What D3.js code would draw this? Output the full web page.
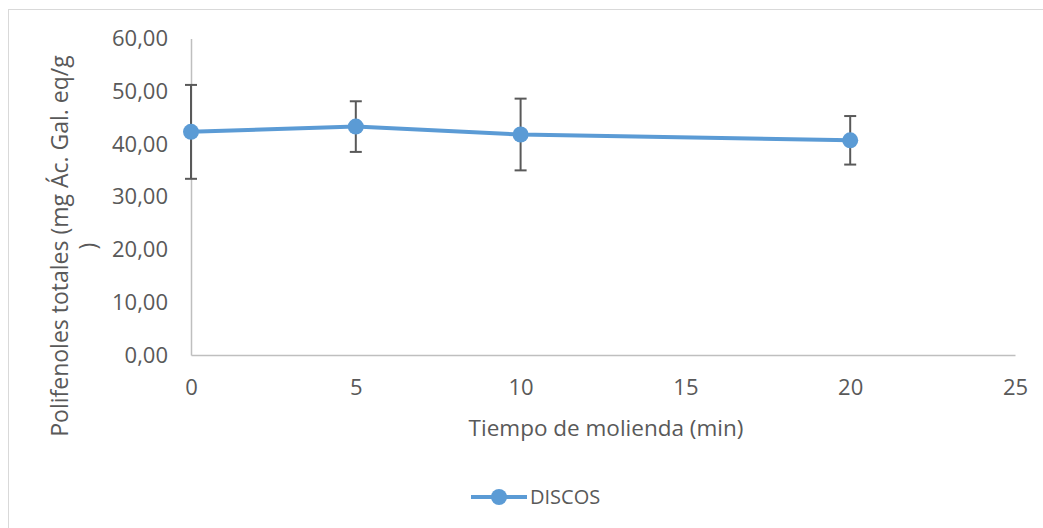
<!DOCTYPE html>
<html>
  <head>
    <style>
      body { margin: 0; background: #fff; }
      svg { font-family: "Open Sans", sans-serif; }
    </style>
  </head>
  <body>
    <svg id="canvas" width="1043" height="528"></svg>
    <script src="https://d3js.org/d3.v7.min.js"></script>
    <script>
      // Data
      const times = [0, 5, 10, 20];
      const values = [42.3, 43.3, 41.8, 40.7];
      const errors = [8.9, 4.8, 6.8, 4.6];
      const xTicks = [0, 5, 10, 15, 20, 25];
      const yTicks = [0, 10, 20, 30, 40, 50, 60];
      const seriesName = "DISCOS";

      const svg = d3.select("#canvas");
      const blue = "#5b9bd5";
      const grey = "#595959";

      // chart border
      svg.append("rect")
        .attr("x", 8.5).attr("y", 9.5)
        .attr("width", 1100).attr("height", 600)
        .attr("fill", "none").attr("stroke", "#d9d9d9");

      const x = d3.scaleLinear().domain([0, 25]).range([191, 1015]);
      const y = d3.scaleLinear().domain([0, 60]).range([355, 38.5]);

      // axes
      const xAxis = svg.append("g")
        .attr("transform", "translate(0," + y(0) + ")")
        .call(d3.axisBottom(x).tickValues(xTicks).tickSize(0).tickPadding(24));
      const yAxis = svg.append("g")
        .attr("transform", "translate(" + x(0) + ",0)")
        .call(d3.axisLeft(y).tickValues(yTicks).tickSize(0).tickPadding(23)
          .tickFormat(d => d3.format(".2f")(d).replace(".", ",")));
      [xAxis, yAxis].forEach(a => {
        a.select(".domain").attr("stroke", "#bfbfbf").attr("stroke-width", 1.5);
        a.selectAll("text").attr("fill", grey).attr("font-size", 22)
          .attr("font-family", "Open Sans");
      });

      const pts = times.map((t, i) => ({ t: t, v: values[i], e: errors[i] }));

      // error bars
      const eb = svg.append("g").attr("stroke", grey).attr("stroke-width", 2);
      pts.forEach(p => {
        eb.append("line")
          .attr("x1", x(p.t)).attr("x2", x(p.t))
          .attr("y1", y(p.v - p.e)).attr("y2", y(p.v + p.e));
        [p.v - p.e, p.v + p.e].forEach(v => {
          eb.append("line")
            .attr("x1", x(p.t) - 6).attr("x2", x(p.t) + 6)
            .attr("y1", y(v)).attr("y2", y(v));
        });
      });

      // line and markers
      svg.append("path")
        .datum(pts)
        .attr("d", d3.line().x(d => x(d.t)).y(d => y(d.v)))
        .attr("fill", "none").attr("stroke", blue).attr("stroke-width", 4);
      svg.selectAll("circle.pt")
        .data(pts).enter().append("circle")
        .attr("class", "pt")
        .attr("cx", d => x(d.t)).attr("cy", d => y(d.v))
        .attr("r", 8).attr("fill", blue);

      // titles
      svg.append("text")
        .attr("x", 606).attr("y", 436)
        .attr("text-anchor", "middle")
        .attr("font-size", 22.5).attr("fill", grey)
        .text("Tiempo de molienda (min)");

      const yt = svg.append("text")
        .attr("transform", "translate(68,246) rotate(-90)")
        .attr("text-anchor", "middle")
        .attr("font-size", 23).attr("fill", grey);
      yt.append("tspan").attr("x", 0).attr("y", 0)
        .text("Polifenoles totales (mg Ác. Gal. eq/g");
      yt.append("tspan").attr("x", 0).attr("y", 28).text(")");

      // legend
      const lg = svg.append("g");
      lg.append("line")
        .attr("x1", 471).attr("x2", 527).attr("y1", 497).attr("y2", 497)
        .attr("stroke", blue).attr("stroke-width", 4);
      lg.append("circle").attr("cx", 499).attr("cy", 497).attr("r", 8).attr("fill", blue);
      lg.append("text")
        .attr("x", 530).attr("y", 504)
        .attr("font-size", 20).attr("fill", grey)
        .text(seriesName);
    </script>
  </body>
</html>
